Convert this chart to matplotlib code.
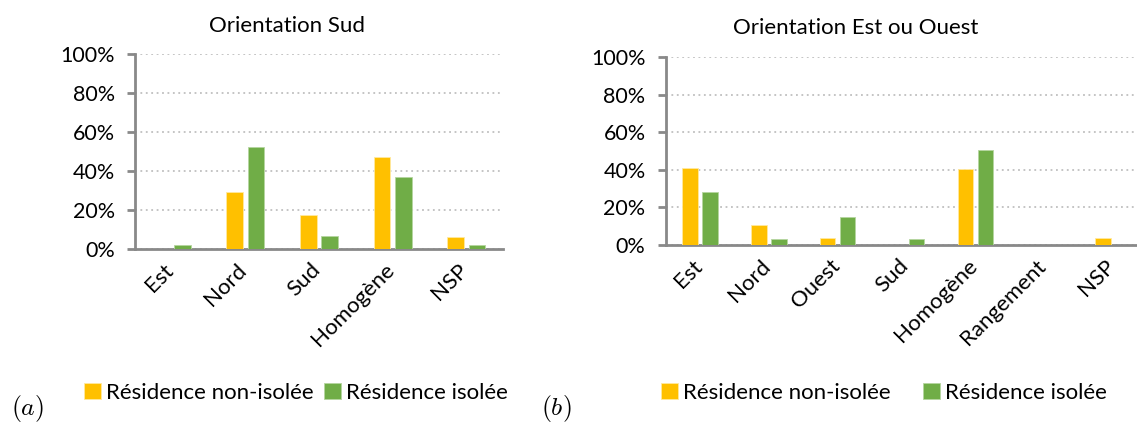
import matplotlib.pyplot as plt
import numpy as np

# data (percent)
cats_sud = ['Est', 'Nord', 'Sud', 'Homogène', 'NSP']
sud_non_isolee = [0, 29, 17.5, 47, 6]
sud_isolee = [2, 52, 6.5, 37, 2]

cats_eo = ['Est', 'Nord', 'Ouest', 'Sud', 'Homogène', 'Rangement', 'NSP']
eo_non_isolee = [41, 10.5, 3.5, 0, 40.5, 0, 3.5]
eo_isolee = [28, 3, 15, 3, 50.5, 0, 0]

labels = ['Résidence non-isolée', 'Résidence isolée']
titles = ['Orientation Sud', 'Orientation Est ou Ouest']

orange = '#FFC000'
green = '#70AD47'
axis_grey = '#898989'

plt.rcParams['font.family'] = ['Lato', 'DejaVu Sans']
plt.rcParams['mathtext.fontset'] = 'cm'
fs = 15.5
fs_big = 16

fig = plt.figure(figsize=(11.37, 4.26), dpi=100)
W, H = 1137, 426


def px_axes(x0, x1, ytop, ybot):
    return fig.add_axes([x0 / W, 1 - ybot / H, (x1 - x0) / W, (ybot - ytop) / H])


def draw(ax, cats, a, b, title, title_x, title_y):
    x = np.arange(len(cats))
    bw = 0.225
    off = 0.145
    ax.bar(x - off, np.array(a) / 100, bw, color=orange, edgecolor='#ffe9a0', linewidth=0.6,
           label=labels[0], zorder=3)
    ax.bar(x + off, np.array(b) / 100, bw, color=green, edgecolor='#b5d6a0', linewidth=0.6,
           label=labels[1], zorder=3)
    ax.set_xlim(-0.5, len(cats) - 0.5)
    ax.set_ylim(0, 1)
    ax.set_yticks([0, 0.2, 0.4, 0.6, 0.8, 1.0])
    ax.set_yticklabels(['0%', '20%', '40%', '60%', '80%', '100%'], fontsize=fs)
    ax.yaxis.grid(True, linestyle=(0, (1, 2)), color='#bfbfbf', linewidth=1.3, zorder=0)
    ax.set_axisbelow(True)
    for s in ['top', 'right']:
        ax.spines[s].set_visible(False)
    for s in ['left', 'bottom']:
        ax.spines[s].set_color(axis_grey)
        ax.spines[s].set_linewidth(2)
    ax.tick_params(axis='y', length=5.5, width=2, color=axis_grey, pad=9, labelcolor='black')
    ax.tick_params(axis='x', length=0, pad=8)
    ax.set_xticks(x - 0.12)
    ax.set_xticklabels(cats, rotation=45, ha='right', va='top', rotation_mode='anchor', fontsize=fs_big)
    fig.text(title_x / W, 1 - title_y / H, title, ha='center', va='baseline', fontsize=fs_big)


ax1 = px_axes(135, 503, 54, 248.7)
draw(ax1, cats_sud, sud_non_isolee, sud_isolee, titles[0], 287, 32)

ax2 = px_axes(665.7, 665.7 + 7 * 68.8, 57.3, 244.7)
draw(ax2, cats_eo, eo_non_isolee, eo_isolee, titles[1], 856, 34)

h, l = ax1.get_legend_handles_labels()
fig.legend(h, l, loc='center left', bbox_to_anchor=(84 / W, 1 - 393 / H), ncol=2, frameon=False,
           fontsize=fs_big, handlelength=0.75, handleheight=0.75, handletextpad=0.25,
           columnspacing=0.45, borderpad=0, borderaxespad=0)
fig.legend(h, l, loc='center left', bbox_to_anchor=(661 / W, 1 - 393 / H), ncol=2, frameon=False,
           fontsize=fs_big, handlelength=0.75, handleheight=0.75, handletextpad=0.25,
           columnspacing=1.45, borderpad=0, borderaxespad=0)

fig.text(11 / W, 1 - 409 / H, r'$(a)$', fontsize=18.5, va='center')
fig.text(541 / W, 1 - 409 / H, r'$(b)$', fontsize=18.5, va='center')

fig.savefig('out.png', dpi=100)
